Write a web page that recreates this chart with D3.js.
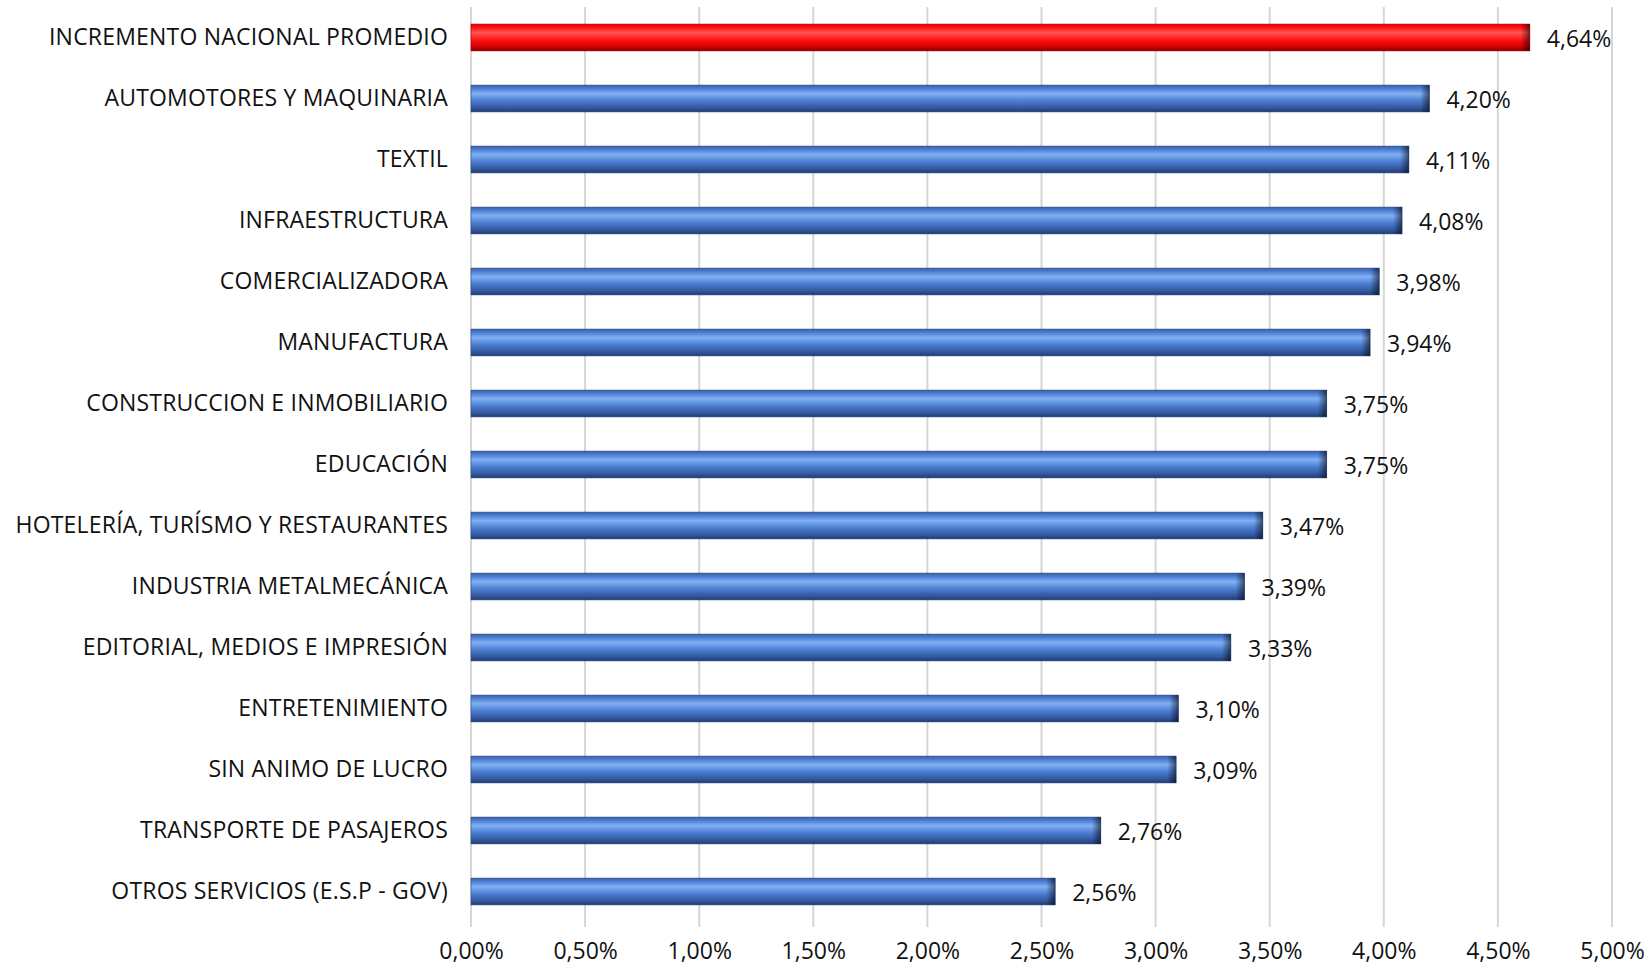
<!DOCTYPE html>
<html>
<head>
<meta charset="utf-8">
<script src="https://cdn.jsdelivr.net/npm/d3@7"></script>
<style>
  body { margin: 0; background: #fff; }
  text { font-family: "Open Sans", sans-serif; fill: #111; }
</style>
</head>
<body>
<div id="graph"></div>
<script>
// data
var sectores = [
  "INCREMENTO NACIONAL PROMEDIO",
  "AUTOMOTORES Y MAQUINARIA",
  "TEXTIL",
  "INFRAESTRUCTURA",
  "COMERCIALIZADORA",
  "MANUFACTURA",
  "CONSTRUCCION E INMOBILIARIO",
  "EDUCACIÓN",
  "HOTELERÍA, TURÍSMO Y RESTAURANTES",
  "INDUSTRIA METALMECÁNICA",
  "EDITORIAL, MEDIOS E IMPRESIÓN",
  "ENTRETENIMIENTO",
  "SIN ANIMO DE LUCRO",
  "TRANSPORTE DE PASAJEROS",
  "OTROS SERVICIOS (E.S.P - GOV)"
];
var valores = [4.64, 4.20, 4.11, 4.08, 3.98, 3.94, 3.75, 3.75, 3.47, 3.39, 3.33, 3.10, 3.09, 2.76, 2.56];
var ticks = [0, 0.5, 1, 1.5, 2, 2.5, 3, 3.5, 4, 4.5, 5];

var w = 1652, h = 965;
var x0 = 471, x1 = 1612;
var yTop = 7, yBottom = 922;
var fontSize = "23px";

var fmt = function(v) { return v.toFixed(2).replace(".", ",") + "%"; };

var svg = d3.select("#graph").append("svg")
    .attr("width", w)
    .attr("height", h);

var defs = svg.append("defs");

function barGradient(id, c) {
  var g = defs.append("linearGradient")
      .attr("id", id)
      .attr("x1", 0).attr("y1", 0).attr("x2", 0).attr("y2", 1);
  g.append("stop").attr("offset", "0%").attr("stop-color", c[0]);
  g.append("stop").attr("offset", "12%").attr("stop-color", c[1]);
  g.append("stop").attr("offset", "32%").attr("stop-color", c[2]);
  g.append("stop").attr("offset", "60%").attr("stop-color", c[1]);
  g.append("stop").attr("offset", "85%").attr("stop-color", c[3]);
  g.append("stop").attr("offset", "100%").attr("stop-color", c[4]);
}
barGradient("blueBar", ["#3a5fa8", "#4a7bd0", "#7fb0f4", "#34589e", "#1f3a70"]);
barGradient("redBar", ["#e00000", "#ff1010", "#ff5555", "#d00000", "#800000"]);

var endG = defs.append("linearGradient")
    .attr("id", "endCap")
    .attr("x1", 0).attr("y1", 0).attr("x2", 1).attr("y2", 0);
endG.append("stop").attr("offset", "0%").attr("stop-color", "#000").attr("stop-opacity", 0);
endG.append("stop").attr("offset", "100%").attr("stop-color", "#000").attr("stop-opacity", 0.55);

var xScale = d3.scaleLinear()
    .domain([0, 5])
    .range([x0, x1]);

var yScale = d3.scaleBand()
    .domain(sectores)
    .range([yTop, yBottom])
    .paddingInner(0.56)
    .paddingOuter(0.28);

// gridlines
svg.append("g")
    .selectAll("line")
    .data(ticks)
    .enter().append("line")
    .attr("x1", function(d) { return xScale(d); })
    .attr("x2", function(d) { return xScale(d); })
    .attr("y1", yTop)
    .attr("y2", yBottom + 5)
    .attr("stroke", "#d6d6d6")
    .attr("stroke-width", 2);

// x axis labels
var xAxis = d3.axisBottom(xScale)
    .tickValues(ticks)
    .tickSize(0)
    .tickPadding(0)
    .tickFormat(fmt);

var gx = svg.append("g")
    .attr("transform", "translate(0," + 943 + ")")
    .call(xAxis);
gx.select(".domain").remove();
gx.selectAll("text")
    .attr("font-size", fontSize)
    .attr("font-family", "'Open Sans', sans-serif")
    .attr("fill", "#111");

// y axis labels
var yAxis = d3.axisLeft(yScale)
    .tickSize(0)
    .tickPadding(23);

var gy = svg.append("g")
    .attr("transform", "translate(" + x0 + ",0)")
    .call(yAxis);
gy.select(".domain").remove();
gy.selectAll("text")
    .attr("font-size", fontSize)
    .attr("font-family", "'Open Sans', sans-serif")
    .attr("letter-spacing", "0.2px")
    .attr("fill", "#111");

// bars
var bars = svg.append("g")
    .selectAll("g")
    .data(valores)
    .enter().append("g");

bars.append("rect")
    .attr("x", x0)
    .attr("y", function(d, i) { return yScale(sectores[i]); })
    .attr("width", function(d) { return xScale(d) - x0; })
    .attr("height", yScale.bandwidth())
    .attr("fill", function(d, i) { return i === 0 ? "url(#redBar)" : "url(#blueBar)"; })
    .attr("stroke", function(d, i) { return i === 0 ? "#b00000" : "#2c4a85"; })
    .attr("stroke-width", 0.6);

// beveled end
bars.append("rect")
    .attr("x", function(d) { return xScale(d) - 9; })
    .attr("y", function(d, i) { return yScale(sectores[i]); })
    .attr("width", 9)
    .attr("height", yScale.bandwidth())
    .attr("fill", "url(#endCap)");

// value labels
bars.append("text")
    .attr("x", function(d) { return xScale(d) + 17; })
    .attr("y", function(d, i) { return yScale(sectores[i]) + yScale.bandwidth() / 2 + 1; })
    .attr("dy", "0.35em")
    .attr("font-size", fontSize)
    .text(function(d) { return fmt(d); });
</script>
</body>
</html>
